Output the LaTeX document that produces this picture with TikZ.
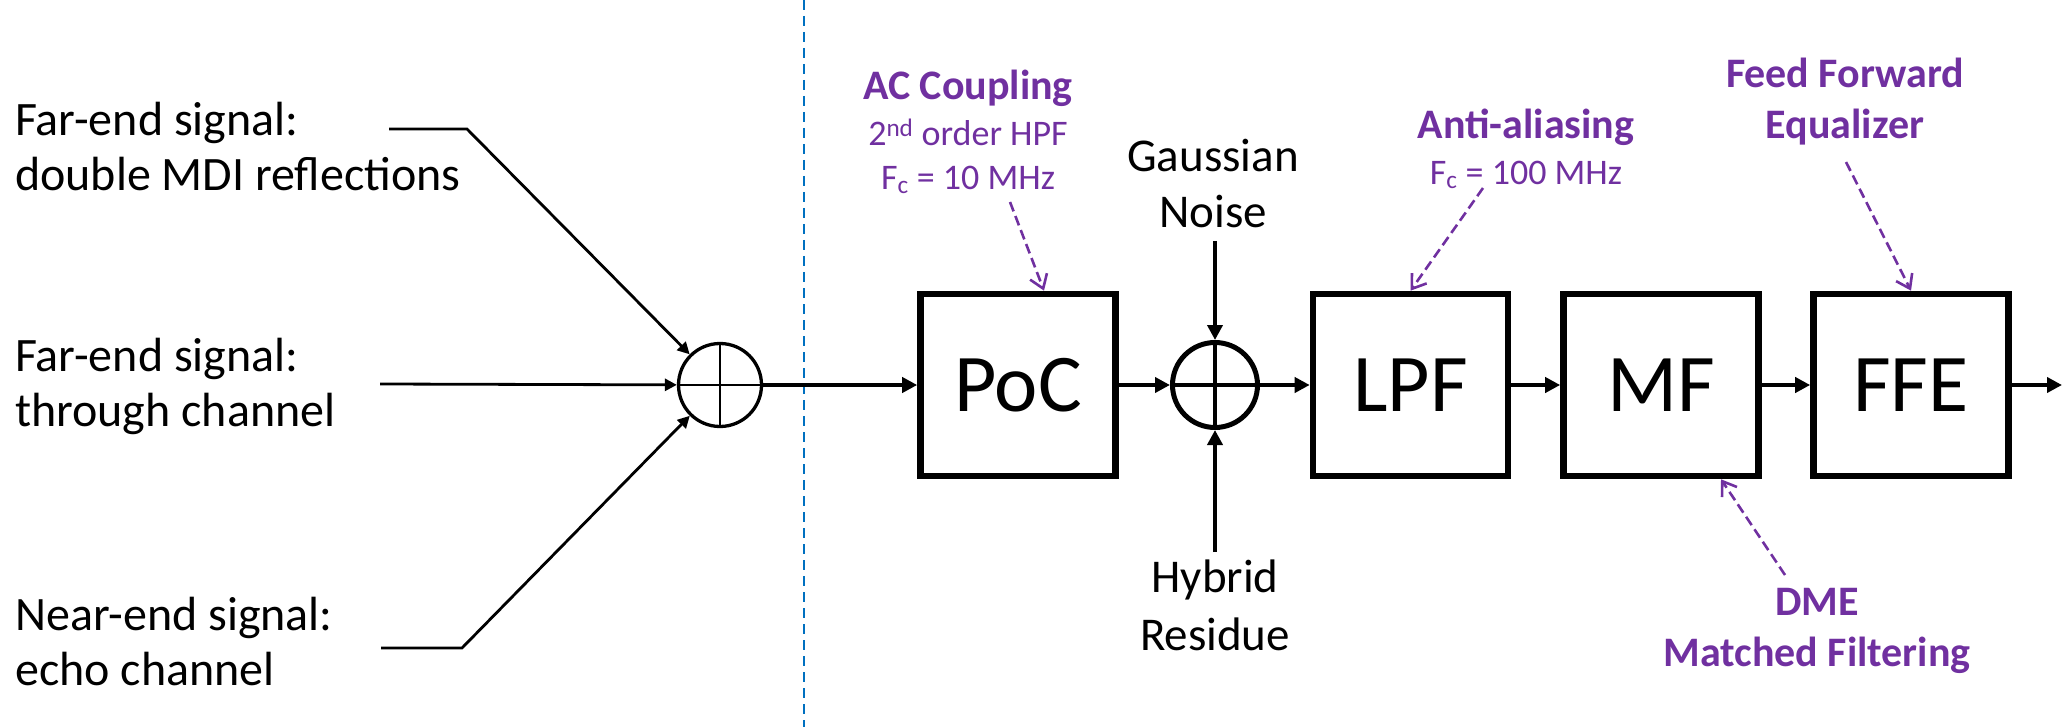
\documentclass[tikz,border=0pt]{standalone}
\usepackage{fontspec}
\setmainfont{Carlito}
\usetikzlibrary{arrows.meta,calc}
\definecolor{ppl}{HTML}{7030A0}
\definecolor{vline}{HTML}{0070C0}
\begin{document}
\begin{tikzpicture}[x=1pt,y=-1pt,
  blk/.style={draw, line width=6.6pt, minimum width=195pt, minimum height=182pt, inner sep=0pt, font=\fontsize{82}{98}\selectfont},
  sumc/.style={draw, circle, minimum size=83pt, inner sep=0pt},
  lbl/.style={font=\fontsize{48}{55}\selectfont, inner sep=0pt},
  note/.style={text=ppl, inner sep=0pt, align=center},
  sig/.style={line width=2.8pt, -{Triangle[length=12pt,width=12pt]}},
  flow/.style={line width=4pt, -{Triangle[length=15pt,width=15pt]}},
  hint/.style={draw=ppl, line width=2.6pt, dash pattern=on 10pt off 5pt, -{Straight Barb[length=13pt,width=18pt]}},
  divline/.style={draw=vline, line width=2.5pt, dash pattern=on 10pt off 6pt}
]
\useasboundingbox (0,0) rectangle (2063,727);

% divider
\coordinate (vt) at (804,0);
\coordinate (vb) at (804,727);
\draw[divline] (vt) -- (vb);

% left labels (anchor = baseline of last line)
\node[lbl, anchor=base west, align=left] (far1) at (15,191) {Far-end signal:\\double MDI reflections};
\node[lbl, anchor=base west, align=left] (far2) at (15,426.5) {Far-end signal:\\through channel};
\node[lbl, anchor=base west, align=left] (near) at (15,685.2) {Near-end signal:\\echo channel};

% blocks
\node[sumc, line width=3.3pt] (S1) at (720,385) {};
\node[blk] (poc) at (1018,385) {PoC};
\node[sumc, line width=5pt, minimum size=85pt] (S2) at (1215,385) {};
\node[blk] (lpf) at (1410.5,385) {LPF};
\node[blk] (mf) at (1661,385) {MF};
\node[blk] (ffe) at (1911,385) {FFE};

\draw[line width=2.4pt] (S1.north) -- (S1.south) (S1.west) -- (S1.east);
\draw[line width=3.4pt] (S2.north) -- (S2.south) (S2.west) -- (S2.east);

% noise labels
\node[lbl, anchor=base, align=center, font=\fontsize{47}{56.5}\selectfont] (gn) at (1213,228) {Gaussian\\Noise};
\node[lbl, anchor=base, align=center, font=\fontsize{47}{57.5}\selectfont] (hr) at (1215,650) {Hybrid\\Residue};

% purple notes
\node[note, anchor=base, font=\fontsize{36}{44}\selectfont] (acn) at (968,190) {{\bfseries\fontsize{42}{51}\selectfont AC Coupling}\\[2pt] 2\textsuperscript{nd} order HPF\\ F\textsubscript{c} = 10 MHz};
\node[note, anchor=base, font=\fontsize{36}{44}\selectfont] (aan) at (1526,184.5) {{\bfseries\fontsize{42}{51}\selectfont Anti-aliasing}\\[1.5pt] F\textsubscript{c} = 100 MHz};
\node[note, anchor=base, font=\bfseries\fontsize{42}{51}\selectfont] (ffn) at (1845,139) {Feed Forward\\Equalizer};
\node[note, anchor=base, font=\bfseries\fontsize{42}{51}\selectfont] (dmn) at (1817,666.7) {DME\\Matched Filtering};

% coordinates
\coordinate (a1) at (389,129);
\coordinate (b1) at (467,129);
\coordinate (a2) at (380,384);
\coordinate (a3) at (381,648);
\coordinate (b3) at (462,648);
\coordinate (gin) at (1215,241);
\coordinate (hin) at (1215,552);
\coordinate (out) at (2062,385);
\coordinate (acs) at (1010,202);
\coordinate (aas) at (1483,188);
\coordinate (ffs) at (1846,162);
\coordinate (dms) at (1785,575);

% signal connectors
\draw[sig] (a1) -- (b1) -- (S1);
\draw[sig] (a2) -- (S1);
\draw[sig] (a3) -- (b3) -- (S1);
\draw[flow] (S1) -- (poc);
\draw[flow] (poc) -- (S2);
\draw[flow] (S2) -- (lpf);
\draw[flow] (lpf) -- (mf);
\draw[flow] (mf) -- (ffe);
\draw[flow] (ffe) -- (out);
\draw[flow] (gin) -- (S2);
\draw[flow] (hin) -- (S2);

% hint arrows
\draw[hint] (acs) -- ([xshift=26pt]poc.north);
\draw[hint] (aas) -- (lpf.north);
\draw[hint] (ffs) -- (ffe.north);
\draw[hint] (dms) -- ([xshift=60pt]mf.south);
\end{tikzpicture}
\end{document}
